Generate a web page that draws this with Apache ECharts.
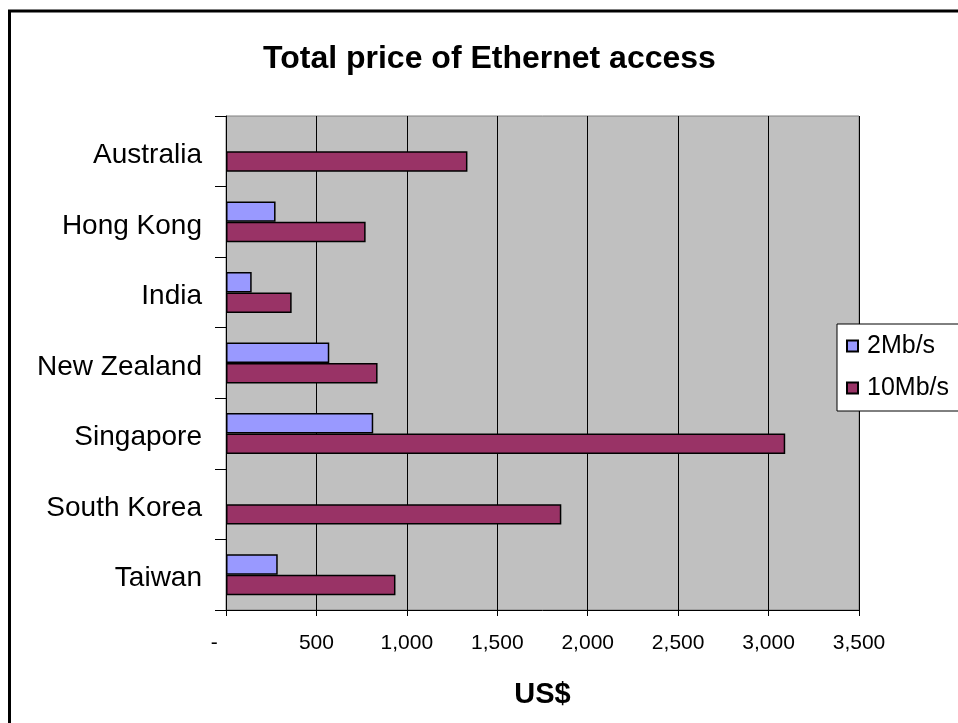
<!DOCTYPE html>
<html>
<head>
<meta charset="utf-8">
<script src="https://cdn.jsdelivr.net/npm/echarts@6/dist/echarts.min.js"></script>
<style>
html,body{margin:0;padding:0;background:#fff;}
#chart{width:958px;height:723px;}
</style>
</head>
<body>
<div id="chart"></div>
<script>
const categories = ['Australia', 'Hong Kong', 'India', 'New Zealand', 'Singapore', 'South Korea', 'Taiwan'];
const series2Mb = [null, 274, 142, 571, 814, null, 286];
const series10Mb = [1335, 772, 363, 838, 3092, 1854, 937];
const seriesNames = ['2Mb/s', '10Mb/s'];
const xTicks = [0, 500, 1000, 1500, 2000, 2500, 3000, 3500];

const FONT = "'Liberation Sans', Arial, sans-serif";
const chart = echarts.init(document.getElementById('chart'), null, {renderer: 'canvas'});

function fmt(v) {
  if (v === 0) return '-    ';
  return v.toLocaleString('en-US');
}

chart.setOption({
  animation: false,
  backgroundColor: '#ffffff',
  graphic: [{
    type: 'rect',
    z: -10,
    shape: {x: 9.5, y: 11, width: 1000, height: 800},
    style: {fill: 'none', stroke: '#000', lineWidth: 3}
  }],
  title: {
    text: 'Total price of Ethernet access',
    left: 263,
    top: 43,
    padding: 0,
    textStyle: {fontFamily: FONT, fontSize: 32, fontWeight: 'bold', color: '#000'}
  },
  legend: {
    orient: 'vertical',
    left: 837,
    top: 324,
    padding: [8, 40, 9, 9],
    borderColor: '#000',
    borderWidth: 1,
    backgroundColor: '#fff',
    itemWidth: 11,
    itemHeight: 11,
    itemGap: 14,
    icon: 'rect',
    data: seriesNames,
    textStyle: {fontFamily: FONT, fontSize: 25, color: '#000', lineHeight: 26, padding: [2, 0, 0, 4]}
  },
  grid: {
    left: 226, right: 99, top: 116, bottom: 113,
    show: true,
    backgroundColor: '#C0C0C0',
    borderColor: '#808080',
    borderWidth: 1
  },
  xAxis: {
    type: 'value',
    min: 0, max: 3500, interval: 500,
    name: 'US$',
    nameLocation: 'middle',
    nameGap: 70,
    nameTextStyle: {fontFamily: FONT, fontSize: 29, fontWeight: 'bold', color: '#000'},
    axisLine: {show: true, lineStyle: {color: '#000', width: 1}},
    axisTick: {show: true, length: 6, lineStyle: {color: '#000'}},
    splitLine: {show: true, lineStyle: {color: '#000', width: 1}},
    axisLabel: {
      fontFamily: FONT, fontSize: 21, color: '#000', margin: 23,
      formatter: fmt
    }
  },
  yAxis: {
    type: 'category',
    data: categories,
    inverse: true,
    axisLine: {show: true, lineStyle: {color: '#000', width: 1}},
    axisTick: {show: true, length: 11, lineStyle: {color: '#000'}},
    axisLabel: {
      margin: 24,
      formatter: function (v) { return '{c|' + v + '}'; },
      rich: {c: {fontFamily: FONT, fontSize: 28, color: '#000', padding: [8, 0, 0, 0]}}
    }
  },
  series: [
    {
      name: seriesNames[0], type: 'bar', data: series2Mb,
      barGap: '0%', barCategoryGap: '42%',
      itemStyle: {color: '#9999FF', borderColor: '#000', borderWidth: 1.5}
    },
    {
      name: seriesNames[1], type: 'bar', data: series10Mb,
      barGap: '0%', barCategoryGap: '42%',
      itemStyle: {color: '#993366', borderColor: '#000', borderWidth: 1.5}
    }
  ]
});
</script>
</body>
</html>
